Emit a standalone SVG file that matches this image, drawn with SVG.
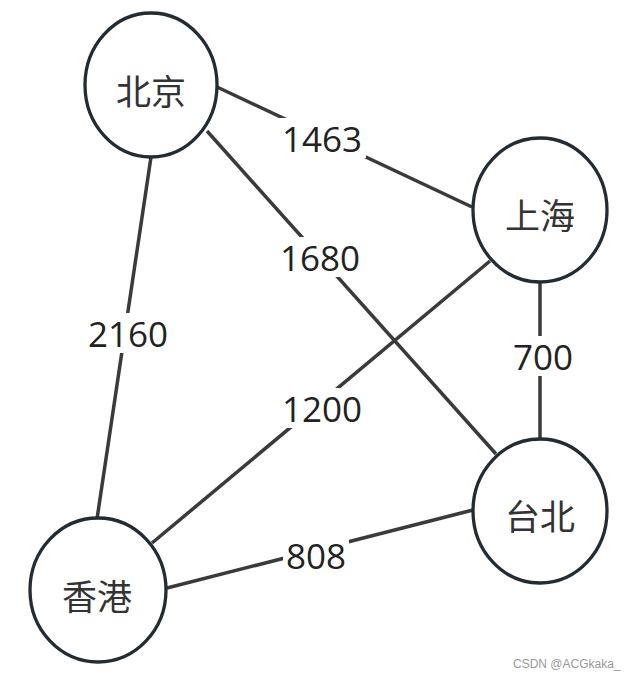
<svg xmlns="http://www.w3.org/2000/svg" width="643" height="677" viewBox="0 0 643 677">
<style>
.edge{stroke:#3a3a3a;stroke-width:3.5;fill:none;stroke-linecap:butt}
.node{fill:#ffffff;stroke:#232b33;stroke-width:3.3}
.ntxt{font-family:"Noto Sans CJK SC","Noto Sans",sans-serif;font-size:35px;fill:#333333;text-anchor:middle;dominant-baseline:central}
.lbg{fill:#ffffff}
.ltxt{font-family:"Open Sans","Noto Sans",sans-serif;font-size:35px;fill:#222222;text-anchor:middle;dominant-baseline:central}
.wm{font-family:"Liberation Sans",Arial,sans-serif;font-size:12px;fill:#999999}
</style>
<rect width="643" height="677" fill="#ffffff"/>
<g id="edges">
<g id="e-bj-sh"><line class="edge" x1="217" y1="87" x2="472" y2="207"/><rect class="lbg" x="278" y="118" width="88" height="40"/><text class="ltxt" x="322" y="138">1463</text></g>
<g id="e-bj-tb"><line class="edge" x1="207" y1="131" x2="496" y2="454"/><rect class="lbg" x="276" y="237" width="88" height="40"/><text class="ltxt" x="320" y="257">1680</text></g>
<g id="e-bj-hk"><line class="edge" x1="151" y1="157" x2="97" y2="519"/><rect class="lbg" x="84" y="313" width="88" height="40"/><text class="ltxt" x="128" y="333">2160</text></g>
<g id="e-sh-hk"><line class="edge" x1="490" y1="261" x2="152" y2="543"/><rect class="lbg" x="278" y="388" width="88" height="40"/><text class="ltxt" x="322" y="408">1200</text></g>
<g id="e-sh-tb"><line class="edge" x1="540" y1="282" x2="540" y2="438"/><rect class="lbg" x="510" y="336" width="66" height="40"/><text class="ltxt" x="543" y="356">700</text></g>
<g id="e-tb-hk"><line class="edge" x1="473" y1="510" x2="167" y2="588"/><rect class="lbg" x="283" y="536" width="66" height="40"/><text class="ltxt" x="316" y="555">808</text></g>
</g>
<g id="node-beijing"><ellipse class="node" cx="151" cy="85" rx="66" ry="72"/><text class="ntxt" x="151" y="89">北京</text></g>
<g id="node-shanghai"><ellipse class="node" cx="540" cy="210" rx="67" ry="72"/><text class="ntxt" x="540" y="213">上海</text></g>
<g id="node-taipei"><ellipse class="node" cx="540" cy="511" rx="67" ry="72"/><text class="ntxt" x="540" y="514">台北</text></g>
<g id="node-hongkong"><ellipse class="node" cx="98" cy="590" rx="68" ry="72"/><text class="ntxt" x="97" y="594">香港</text></g>
<text class="wm" x="513" y="668">CSDN @ACGkaka_</text>
</svg>
